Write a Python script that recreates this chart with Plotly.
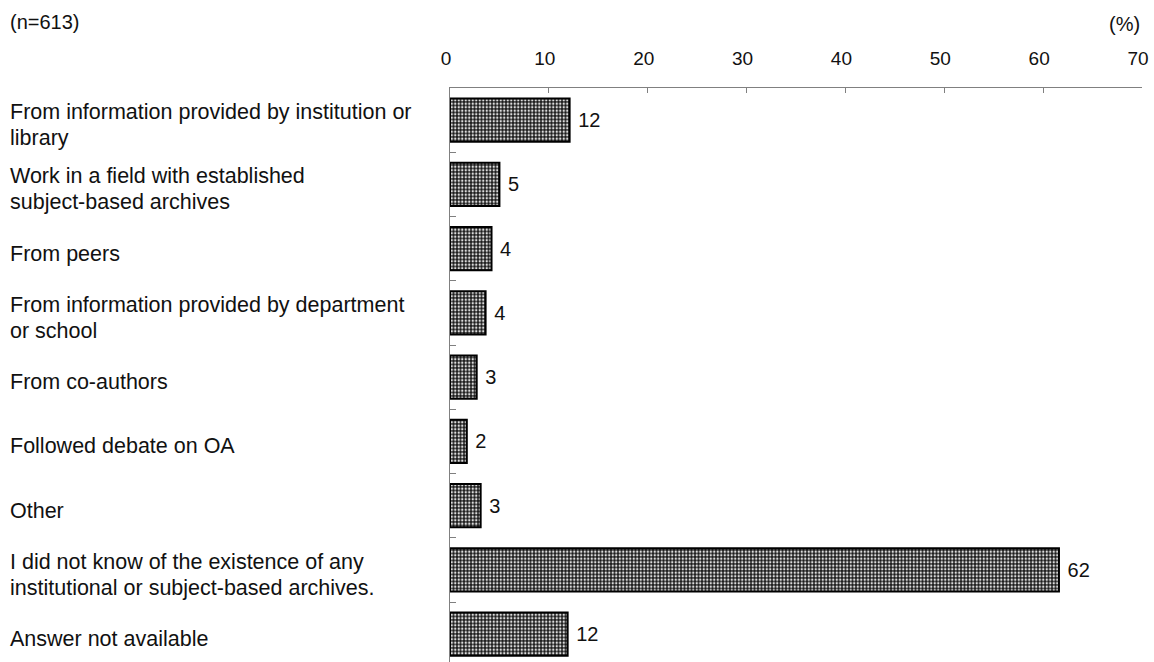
import plotly.graph_objects as go

categories = [
    "From information provided by institution or<br>library",
    "Work in a field with established<br>subject-based archives",
    "From peers",
    "From information provided by department<br>or school",
    "From co-authors",
    "Followed debate on OA",
    "Other",
    "I did not know of the existence of any<br>institutional or subject-based archives.",
    "Answer not available",
]
values = [12.1, 5.0, 4.2, 3.6, 2.7, 1.7, 3.1, 61.6, 11.9]
value_labels = ["12", "5", "4", "4", "3", "2", "3", "62", "12"]
x_ticks = [0, 10, 20, 30, 40, 50, 60, 70]
sample_note = "(n=613)"
unit_note = "(%)"

FONT = "Liberation Sans, Arial, sans-serif"
W, H = 1154, 662
ML, MR, MT, MB = 450, 12, 88, 0
pw = W - ML - MR
ph = H - MT - MB
band = 64.25
y_top = -0.5
y_bottom = y_top + ph / band

idx = list(range(len(categories)))

fig = go.Figure()
fig.add_trace(go.Bar(
    y=idx,
    x=values,
    orientation="h",
    width=0.67,
    text=value_labels,
    texttemplate=" %{text}",
    textposition="outside",
    constraintext="none",
    cliponaxis=False,
    textfont=dict(family=FONT, size=20, color="#111"),
    marker=dict(
        color="#1a1a1a",
        line=dict(color="#000", width=2),
        pattern=dict(shape=".", fgcolor="#dcdcdc", bgcolor="#1a1a1a",
                     size=3.5, solidity=0.38, fillmode="replace"),
    ),
    hoverinfo="skip",
))

LINE = 26
for i, c in enumerate(categories):
    lines = c.split("<br>")
    n = len(lines)
    for k, ln in enumerate(lines):
        off = (k - (n - 1) / 2) * LINE
        fig.add_annotation(
            x=-(ML - 8) / pw, xref="paper", xanchor="left",
            y=i, yref="y", yanchor="middle", yshift=-5 - off,
            text=ln, align="left", showarrow=False,
            font=dict(family=FONT, size=21.5, color="#111"),
        )

fig.add_annotation(x=-(ML - 8) / pw, xref="paper", xanchor="left",
                   y=1, yref="paper", yshift=MT - 22, yanchor="middle",
                   text=sample_note, showarrow=False,
                   font=dict(family=FONT, size=20, color="#111"))
fig.add_annotation(x=1, xref="paper", xanchor="right",
                   y=1, yref="paper", yshift=MT - 24, yanchor="middle",
                   text=unit_note, showarrow=False,
                   font=dict(family=FONT, size=20, color="#111"))

fig.update_layout(
    width=W, height=H,
    margin=dict(l=ML, r=MR, t=MT, b=MB, pad=0),
    paper_bgcolor="white", plot_bgcolor="white",
    showlegend=False,
    xaxis=dict(
        side="top", range=[0, 70], tickvals=x_ticks,
        ticks="inside", ticklen=5, tickcolor="#808080",
        showline=True, linecolor="#808080", linewidth=1,
        showgrid=False, zeroline=False,
        ticklabelstandoff=14, ticklabelshift=-4,
        tickfont=dict(family=FONT, size=19, color="#111"),
    ),
    yaxis=dict(
        range=[y_bottom, y_top],
        tickvals=[i - 0.5 for i in idx] + [8.5],
        ticks="inside", ticklen=6, tickcolor="#808080",
        showticklabels=False,
        showline=True, linecolor="#808080", linewidth=1,
        showgrid=False, zeroline=False,
    ),
)

fig.write_html(
    "out.html",
    config={"displayModeBar": False},
    post_script="document.body.style.margin='0';document.body.style.overflow='hidden';",
)
